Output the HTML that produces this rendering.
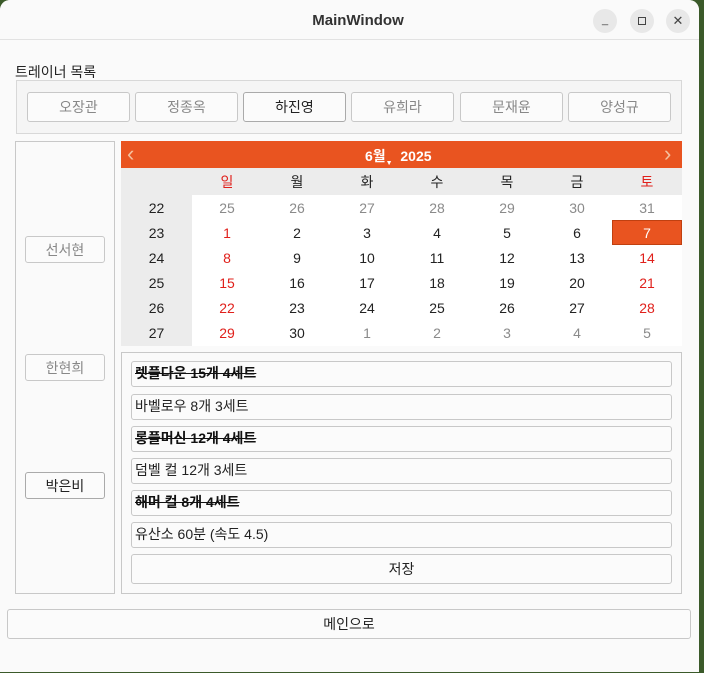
<!DOCTYPE html>
<html><head><meta charset="utf-8"><style>
*{box-sizing:border-box;margin:0;padding:0}
body{width:704px;height:673px;background:#3b5a2a;font-family:"Liberation Sans","Noto Sans CJK KR",sans-serif;font-size:14px;position:relative;overflow:hidden}
.a{position:absolute}
.win{left:0;top:0;width:699px;height:672px;background:#fafafa;border-radius:10px 10px 0 0;overflow:hidden}
.btn{position:absolute;border:1px solid #c8c8c8;border-radius:3px;background:#fbfbfb;display:flex;align-items:center;justify-content:center;color:#888}
.cell{position:absolute;width:70px;height:25px;display:flex;align-items:center;justify-content:center;font-size:14px}
.item{position:absolute;left:9px;width:541px;height:26px;border:1px solid #c8c8c8;border-radius:3px;background:#fbfbfb;padding-left:3px;line-height:23px;color:#222}
.item.done{font-weight:bold;text-decoration:line-through;color:#111}
</style></head><body>
<div class="a win">
 <div class="a" style="left:0;top:0;width:699px;height:40px;border-bottom:1px solid #e2e2e2;background:#fafafa">
  <div class="a" style="left:0;width:716px;top:12px;text-align:center;font-weight:bold;font-size:15px;color:#333">MainWindow</div>
  <div class="a" style="left:593px;top:9px;width:24px;height:24px;border-radius:12px;background:#e8e8e8;text-align:center;line-height:22px;font-size:11px;color:#444">_</div>
  <div class="a" style="left:630px;top:9px;width:24px;height:24px;border-radius:12px;background:#e8e8e8"><div class="a" style="left:8px;top:8px;width:8px;height:8px;border:1px solid #444"></div></div>
  <div class="a" style="left:666px;top:9px;width:24px;height:24px;border-radius:12px;background:#e8e8e8;text-align:center;line-height:23px;font-size:13px;color:#444">✕</div>
 </div>
 <div class="a" style="left:15px;top:62px;color:#222">트레이너 목록</div>
 <div class="a" style="left:16px;top:80px;width:666px;height:54px;border:1px solid #d8d8d8;background:#f5f5f5"></div>
 <div class="btn" style="left:27px;top:92px;width:103px;height:30px">오장관</div>
 <div class="btn" style="left:135px;top:92px;width:103px;height:30px">정종옥</div>
 <div class="btn" style="left:243px;top:92px;width:103px;height:30px;color:#222;border-color:#aaa">하진영</div>
 <div class="btn" style="left:351px;top:92px;width:103px;height:30px">유희라</div>
 <div class="btn" style="left:460px;top:92px;width:103px;height:30px">문재윤</div>
 <div class="btn" style="left:568px;top:92px;width:103px;height:30px">양성규</div>
 <div class="a" style="left:15px;top:141px;width:100px;height:453px;border:1px solid #c8c8c8"></div>
 <div class="btn" style="left:25px;top:236px;width:80px;height:27px">선서현</div>
 <div class="btn" style="left:25px;top:354px;width:80px;height:27px">한현희</div>
 <div class="btn" style="left:25px;top:472px;width:80px;height:27px;color:#222;border-color:#aaa">박은비</div>
 <div class="a" style="left:121px;top:141px;width:561px;height:205px;background:#fff" id="cal">
  <div class="a" style="left:0;top:0;width:561px;height:27px;background:#e95420;color:#fff;font-weight:bold">
   <div class="a" style="left:6px;top:0px;color:#f5c09e;font-size:22px;font-weight:normal">‹</div>
   <div class="a" style="left:244px;top:5px">6월<span style="font-size:7px;vertical-align:-4px">▼</span>&nbsp; 2025</div>
   <div class="a" style="left:543px;top:0px;color:#f5c09e;font-size:22px;font-weight:normal">›</div>
  </div>
  <div class="a" style="left:0;top:27px;width:561px;height:27px;background:#ececec"></div>
  <div class="a" style="left:0;top:54px;width:71px;height:151px;background:#ececec"></div>
 </div>
 <div class="a" style="left:121px;top:352px;width:561px;height:242px;border:1px solid #c8c8c8">
  <div class="item done" style="top:8px">렛풀다운 15개 4세트</div>
  <div class="item" style="top:41px">바벨로우 8개 3세트</div>
  <div class="item done" style="top:73px">롱풀머신 12개 4세트</div>
  <div class="item" style="top:105px">덤벨 컬 12개 3세트</div>
  <div class="item done" style="top:137px">해머 컬 8개 4세트</div>
  <div class="item" style="top:169px">유산소 60분 (속도 4.5)</div>
  <div class="btn" style="left:9px;top:201px;width:541px;height:30px;color:#222">저장</div>
 </div>
 <div class="btn" style="left:7px;top:609px;width:684px;height:30px;color:#222">메인으로</div>
</div>
<script>
const weekdays=['일','월','화','수','목','금','토'];
const weekNums=[22,23,24,25,26,27];
const days=[[25,26,27,28,29,30,31],[1,2,3,4,5,6,7],[8,9,10,11,12,13,14],[15,16,17,18,19,20,21],[22,23,24,25,26,27,28],[29,30,1,2,3,4,5]];
const cal=document.getElementById('cal');
function mk(txt,x,y,w,color,bg){const d=document.createElement('div');d.className='cell';d.style.left=x+'px';d.style.top=y+'px';d.style.width=w+'px';d.style.color=color;if(bg)d.style.background=bg;d.textContent=txt;cal.appendChild(d);return d;}
weekdays.forEach((w,i)=>{const d=mk(w,71+i*70,28,70,(i==0||i==6)?'#e0201b':'#222');

});
weekNums.forEach((n,r)=>{const d=mk(n,0,54+r*25,71,'#222');

});
days.forEach((row,r)=>row.forEach((v,c)=>{const other=(r==0)||(r==5&&c>=2);let col=other?'#8a8a8a':((c==0||c==6)?'#e0201b':'#222');let bg=null;
if(r==1&&c==6){bg='#e95420';col='#fff';}
const d=mk(v,71+c*70,54+r*25,70,col,bg);if(bg)d.style.border='1px solid #c04010';

}));
</script>
</body></html>
